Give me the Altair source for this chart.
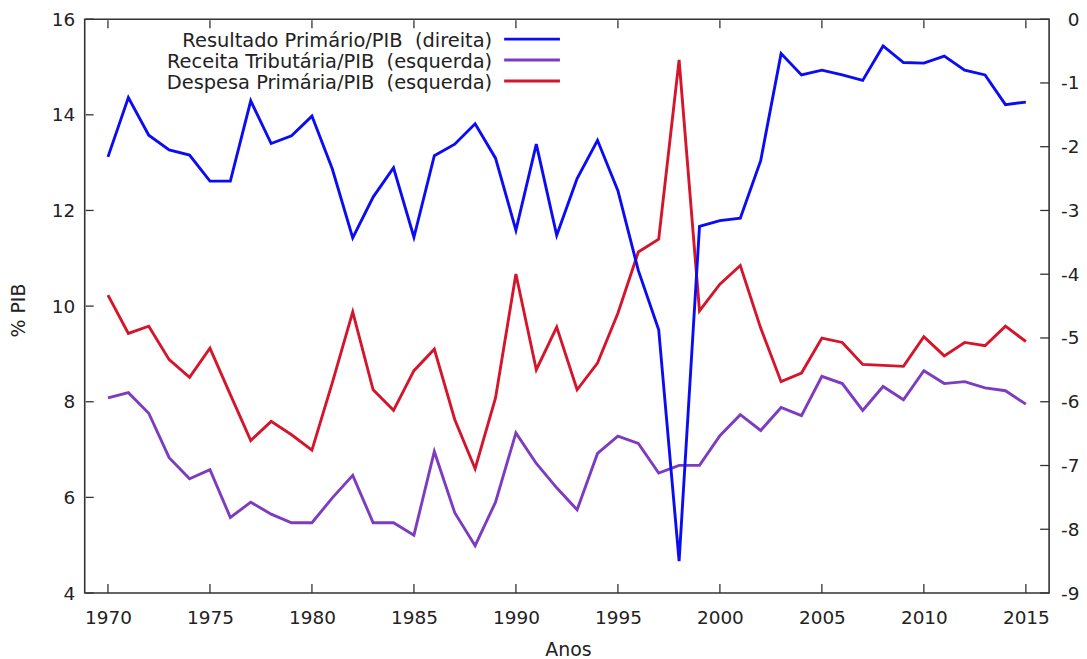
import altair as alt
import pandas as pd

anos = list(range(1970, 2016))

resultado_primario = [
    -2.16, -1.23, -1.82, -2.05, -2.13, -2.54, -2.54, -1.28, -1.95, -1.83,
    -1.52, -2.35, -3.43, -2.79, -2.33, -3.42, -2.14, -1.96, -1.64, -2.18,
    -3.31, -1.96, -3.39, -2.50, -1.90, -2.69, -3.94, -4.87, -8.50, -3.25,
    -3.16, -3.12, -2.22, -0.54, -0.875, -0.80, -0.875, -0.96, -0.42, -0.68,
    -0.69, -0.58, -0.80, -0.875, -1.34, -1.30,
]

receita_tributaria = [
    8.08, 8.19, 7.76, 6.83, 6.39, 6.58, 5.58, 5.90, 5.65, 5.47,
    5.47, 5.99, 6.46, 5.47, 5.47, 5.21, 6.96, 5.68, 4.99, 5.90,
    7.35, 6.71, 6.20, 5.74, 6.92, 7.28, 7.13, 6.51, 6.67, 6.67,
    7.29, 7.73, 7.40, 7.88, 7.71, 8.53, 8.38, 7.82, 8.32, 8.04,
    8.65, 8.38, 8.42, 8.29, 8.23, 7.95,
]

despesa_primaria = [
    10.23, 9.43, 9.58, 8.88, 8.51, 9.12, 8.15, 7.19, 7.59, 7.31,
    6.99, 8.40, 9.88, 8.25, 7.82, 8.65, 9.10, 7.63, 6.60, 8.08,
    10.67, 8.67, 9.56, 8.25, 8.81, 9.85, 11.13, 11.40, 15.15, 9.90,
    10.46, 10.85, 9.54, 8.42, 8.60, 9.33, 9.24, 8.78, 8.76, 8.74,
    9.36, 8.96, 9.24, 9.17, 9.58, 9.26,
]

serie_nomes = [
    "Resultado Primário/PIB\u00a0 (direita)",
    "Receita Tributária/PIB\u00a0 (esquerda)",
    "Despesa Primária/PIB\u00a0 (esquerda)",
]
serie_cores = ["#0c0cf4", "#7d3cbf", "#d4152b"]

x_ticks = list(range(1970, 2016, 5))
y_left_ticks = [4, 6, 8, 10, 12, 14, 16]
y_right_ticks = [-9, -8, -7, -6, -5, -4, -3, -2, -1, 0]

FONT = "DejaVu Sans"
TXT = "#222222"
AX = "#333333"
W, H = 968, 576
FS_LBL = 18.5
FS_TTL = 19
FS_LEG = 19.5

df_left = pd.DataFrame(
    {
        "ano": anos * 2,
        "valor": receita_tributaria + despesa_primaria,
        "serie": [serie_nomes[1]] * len(anos) + [serie_nomes[2]] * len(anos),
    }
)
df_right = pd.DataFrame({"ano": anos, "valor": resultado_primario})

xscale = alt.Scale(domain=[1968.86, 2016.14], nice=False, zero=False)
yl_scale = alt.Scale(domain=[4, 16], nice=False, zero=False)
yr_scale = alt.Scale(domain=[-9, 0], nice=False, zero=False)

x_axis = alt.Axis(
    values=x_ticks, format="d", ticks=False, tickSize=0, domain=False, grid=False,
    labelFont=FONT, labelFontSize=FS_LBL, labelColor=TXT, labelPadding=16,
    title="Anos", titleFont=FONT, titleFontSize=FS_TTL, titleFontWeight="normal",
    titleColor=TXT, titleX=485, titleY=57, titleBaseline="middle", titleAlign="center",
)
yl_axis = alt.Axis(
    values=y_left_ticks, ticks=False, tickSize=0, domain=False, grid=False,
    labelFont=FONT, labelFontSize=FS_LBL, labelColor=TXT, labelPadding=10,
    title="% PIB", titleFont=FONT, titleFontSize=FS_TTL, titleFontWeight="normal",
    titleColor=TXT, titleAngle=270, titleX=-66, titleY=292,
    titleBaseline="middle", titleAlign="center",
)
yr_axis = alt.Axis(
    orient="right", values=y_right_ticks, ticks=False, tickSize=0, domain=False,
    grid=False, labelFont=FONT, labelFontSize=FS_LBL, labelColor=TXT,
    labelPadding=30, labelAlign="right", title=None,
    labelExpr="toString(datum.value)",
)

left_lines = (
    alt.Chart(df_left)
    .mark_line(strokeWidth=2.9)
    .encode(
        x=alt.X("ano:Q", scale=xscale, axis=x_axis),
        y=alt.Y("valor:Q", scale=yl_scale, axis=yl_axis),
        color=alt.Color(
            "serie:N",
            scale=alt.Scale(domain=serie_nomes[1:], range=serie_cores[1:]),
            legend=None,
        ),
    )
)

df_xt = pd.DataFrame({"ano": x_ticks})
xt_bottom = alt.Chart(df_xt).mark_rule(color=AX, strokeWidth=1.3).encode(
    x=alt.X("ano:Q", scale=xscale, axis=x_axis), y=alt.value(H), y2=alt.value(H - 9)
)
xt_top = alt.Chart(df_xt).mark_rule(color=AX, strokeWidth=1.3).encode(
    x=alt.X("ano:Q", scale=xscale, axis=x_axis), y=alt.value(1), y2=alt.value(9)
)
df_ylt = pd.DataFrame({"valor": y_left_ticks})
yl_ticks = alt.Chart(df_ylt).mark_rule(color=AX, strokeWidth=1.3).encode(
    y=alt.Y("valor:Q", scale=yl_scale, axis=yl_axis), x=alt.value(1), x2=alt.value(9)
)

left_layer = alt.layer(xt_bottom, xt_top, yl_ticks, left_lines)

df_yrt = pd.DataFrame({"valor": y_right_ticks})
yr_ticks = alt.Chart(df_yrt).mark_rule(color=AX, strokeWidth=1.3).encode(
    y=alt.Y("valor:Q", scale=yr_scale, axis=yr_axis), x=alt.value(W - 9), x2=alt.value(W)
)
right_line = (
    alt.Chart(df_right)
    .mark_line(strokeWidth=2.9, color=serie_cores[0])
    .encode(
        x=alt.X("ano:Q", scale=xscale, axis=x_axis),
        y=alt.Y("valor:Q", scale=yr_scale, axis=yr_axis),
    )
)

# legend (text right-aligned, line sample to its right)
legend_layers = []
row_y = [22, 43, 64]
for nome, cor, yy in zip(serie_nomes, serie_cores, row_y):
    d = pd.DataFrame({"t": [nome]})
    legend_layers.append(
        alt.Chart(d)
        .mark_text(align="right", baseline="middle", font=FONT, fontSize=FS_LEG, color=TXT)
        .encode(text="t:N", x=alt.value(409), y=alt.value(yy))
    )
    legend_layers.append(
        alt.Chart(d)
        .mark_rule(color=cor, strokeWidth=2.9)
        .encode(x=alt.value(421), x2=alt.value(477), y=alt.value(yy - 2))
    )

right_layer = alt.layer(yr_ticks, right_line, *legend_layers)

chart = (
    alt.layer(left_layer, right_layer)
    .resolve_scale(y="independent")
    .properties(
        width=W,
        height=H,
        padding={"left": 77, "top": 10, "right": 30, "bottom": 65},
        autosize=alt.AutoSizeParams(type="none"),
        background="white",
    )
    .configure_view(stroke=AX, strokeWidth=1.6)
)

chart.save("out.html", embed_options={"renderer": "svg", "actions": False})
